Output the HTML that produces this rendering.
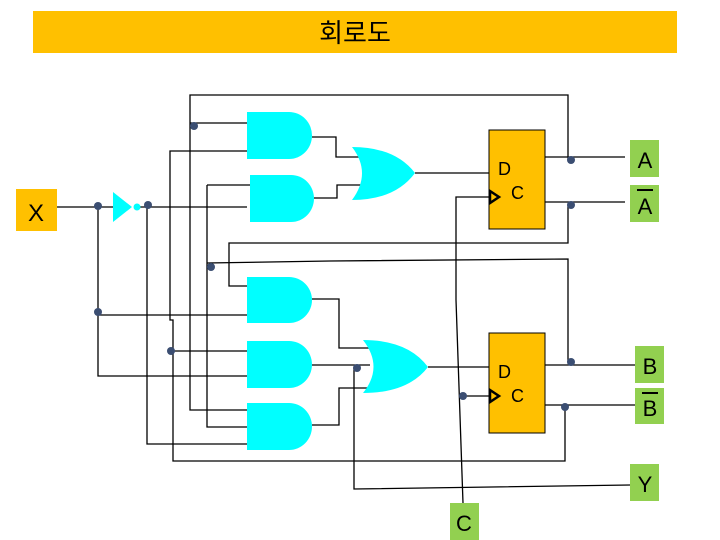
<!DOCTYPE html>
<html><head><meta charset="utf-8"><style>
html,body{margin:0;padding:0;background:#fff;width:720px;height:540px;overflow:hidden}
svg{display:block}
text{font-family:"Liberation Sans","DejaVu Sans",sans-serif}
</style></head><body>
<svg width="720" height="540" viewBox="0 0 720 540" xmlns="http://www.w3.org/2000/svg">
<rect x="33" y="11" width="644" height="42" fill="#FFC000"/>
<text x="355" y="42" font-size="26" text-anchor="middle" font-family="'Noto Sans CJK KR','NanumGothic',sans-serif">회로도</text>

<rect x="16" y="189" width="41" height="42" fill="#FFC000"/>
<text x="36" y="221" font-size="24" text-anchor="middle">X</text>

<g fill="none" stroke="#000" stroke-width="1.3">
<path d="M57 207H113"/>
<path d="M98 207V376H247"/>
<path d="M98 315H247"/>
<path d="M140 207H247"/>
<path d="M147 207V444H247"/>
<path d="M568 160V95H190V410H247"/>
<path d="M190 123H247"/>
<path d="M568 205V243H229V286H247"/>
<path d="M568 362V259L330 261L207 263"/>
<path d="M207 185H250"/>
<path d="M207 185V427H247"/>
<path d="M565 407V461H173V320H170V151H247"/>
<path d="M171 351H247"/>
<path d="M312 137H336V157H362"/>
<path d="M314 198H337V185H362"/>
<path d="M415 173H489"/>
<path d="M312 299H339V348H370"/>
<path d="M312 365H370"/>
<path d="M312 425H339V388H370"/>
<path d="M428 367H489"/>
<path d="M354 368V489L630 485"/>
<path d="M489 197H456V300L463 503"/>
<path d="M463 396H489"/>
<path d="M545 157H625"/>
<path d="M545 202H625"/>
<path d="M545 365H635"/>
<path d="M545 405H635"/>
</g>

<g fill="#00FFFF">
<path d="M247 112H289A23 23.5 0 0 1 289 159H247Z"/>
<path d="M250 175H291A23 23.5 0 0 1 291 222H250Z"/>
<path d="M247 277H289A23 23 0 0 1 289 323H247Z"/>
<path d="M247 341H289A23 23.5 0 0 1 289 388H247Z"/>
<path d="M247 403H289A23 23.5 0 0 1 289 450H247Z"/>
<path d="M352 147Q395 147 415 173Q395 200 352 200Q372 173 352 147Z"/>
<path d="M363 340Q408 340 428 367Q408 393 363 393Q384 367 363 340Z"/>
<path d="M113 192L132 207L113 222Z"/>
<circle cx="137" cy="207" r="3.5"/>
</g>

<rect x="489" y="130" width="56" height="99" fill="#FFC000" stroke="#000" stroke-width="1"/>
<rect x="489" y="333" width="56" height="100" fill="#FFC000" stroke="#000" stroke-width="1"/>
<g fill="none" stroke="#000" stroke-width="2.5">
<path d="M490 191L499 197L490 203Z"/>
<path d="M490 390L499 396L490 402Z"/>
</g>
<g font-size="18" fill="#000">
<text x="498" y="175">D</text><text x="511" y="199">C</text>
<text x="498" y="378">D</text><text x="511" y="402">C</text>
</g>

<g fill="#92D050">
<rect x="630" y="140" width="29" height="37"/>
<rect x="630" y="185" width="29" height="37"/>
<rect x="635" y="346" width="29" height="37"/>
<rect x="635" y="388" width="29" height="36"/>
<rect x="630" y="464" width="29" height="37"/>
<rect x="450" y="503" width="29" height="37"/>
</g>
<g font-size="22" text-anchor="middle" fill="#000">
<text x="645" y="168">A</text>
<text x="645" y="214">A</text>
<text x="650" y="374">B</text>
<text x="650" y="416">B</text>
<text x="645" y="492">Y</text>
<text x="464" y="531">C</text>
</g>
<path d="M637 190H653M642 393H658" stroke="#000" stroke-width="2"/>

<g fill="#3B4E72">
<circle cx="98" cy="206" r="4"/>
<circle cx="148" cy="205" r="4"/>
<circle cx="194" cy="126" r="4"/>
<circle cx="211" cy="267" r="4"/>
<circle cx="98" cy="312" r="4"/>
<circle cx="171" cy="351" r="4"/>
<circle cx="357" cy="368" r="4"/>
<circle cx="571" cy="160" r="4"/>
<circle cx="571" cy="205" r="4"/>
<circle cx="571" cy="362" r="4"/>
<circle cx="565" cy="407" r="4"/>
<circle cx="463" cy="396" r="4"/>
</g>
</svg>
</body></html>
